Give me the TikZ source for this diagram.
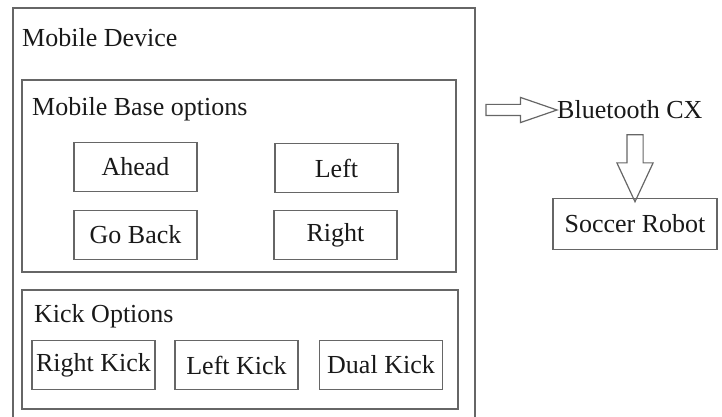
\documentclass[tikz,border=0pt]{standalone}
\usepackage{fontspec}
\setmainfont{Liberation Serif}
\usetikzlibrary{shapes.arrows}
\tikzset{
  frame/.style={draw=black!60, line width=1.6pt},
  optbox/.style={frame, minimum width=123pt, minimum height=49pt, inner sep=0pt, text=black!90},
  title/.style={anchor=base west, inner sep=0pt, text=black!90},
  fatarrow/.style={draw=black!60, line width=1.2pt, single arrow, inner sep=0pt, outer sep=0pt}
}
\begin{document}
\begin{tikzpicture}[x=1pt,y=-1pt,font=\fontsize{26}{30}\selectfont]
\useasboundingbox (0,0) rectangle (722,417);
% containers
\draw[frame] (13,8) rectangle (475,430);
\draw[frame] (22,80) rectangle (456,272);
\draw[frame] (22,290) rectangle (458,409);
\node[title] (md) at (22,47) {Mobile Device};
\node[title] (mbo) at (32,115) {Mobile Base options};
\node[title] (ko) at (34,322) {Kick Options};
% base options
\node[optbox] (ahead) at (135.5,167) {Ahead};
\node[optbox] (left) at (336.5,168) {Left};
\node[optbox] (back) at (135.5,235) {Go Back};
\node[optbox] (right) at (335.5,235) {Right};
% kick options
\node[optbox] (rkick) at (93.5,365) {Right Kick};
\node[optbox] (lkick) at (236.5,365) {Left Kick};
\node[optbox] (dkick) at (381,365) {Dual Kick};
% link to robot
\node[title, anchor=west] (bt) at (557,110) {Bluetooth CX};
\node[optbox, minimum width=164pt, minimum height=51pt] (robot) at (635,224) {Soccer Robot};
\node[fatarrow, anchor=tip, minimum height=71pt, minimum width=24pt,
  inner ysep=5pt, single arrow head extend=7pt, single arrow tip angle=38] at (bt.west) {};
\node[fatarrow, anchor=tip, shape border rotate=270, minimum height=67pt, minimum width=35pt,
  inner sep=7.5pt, single arrow head extend=10pt, single arrow tip angle=50] at ([yshift=-4pt]robot.north) {};
\end{tikzpicture}
\end{document}
